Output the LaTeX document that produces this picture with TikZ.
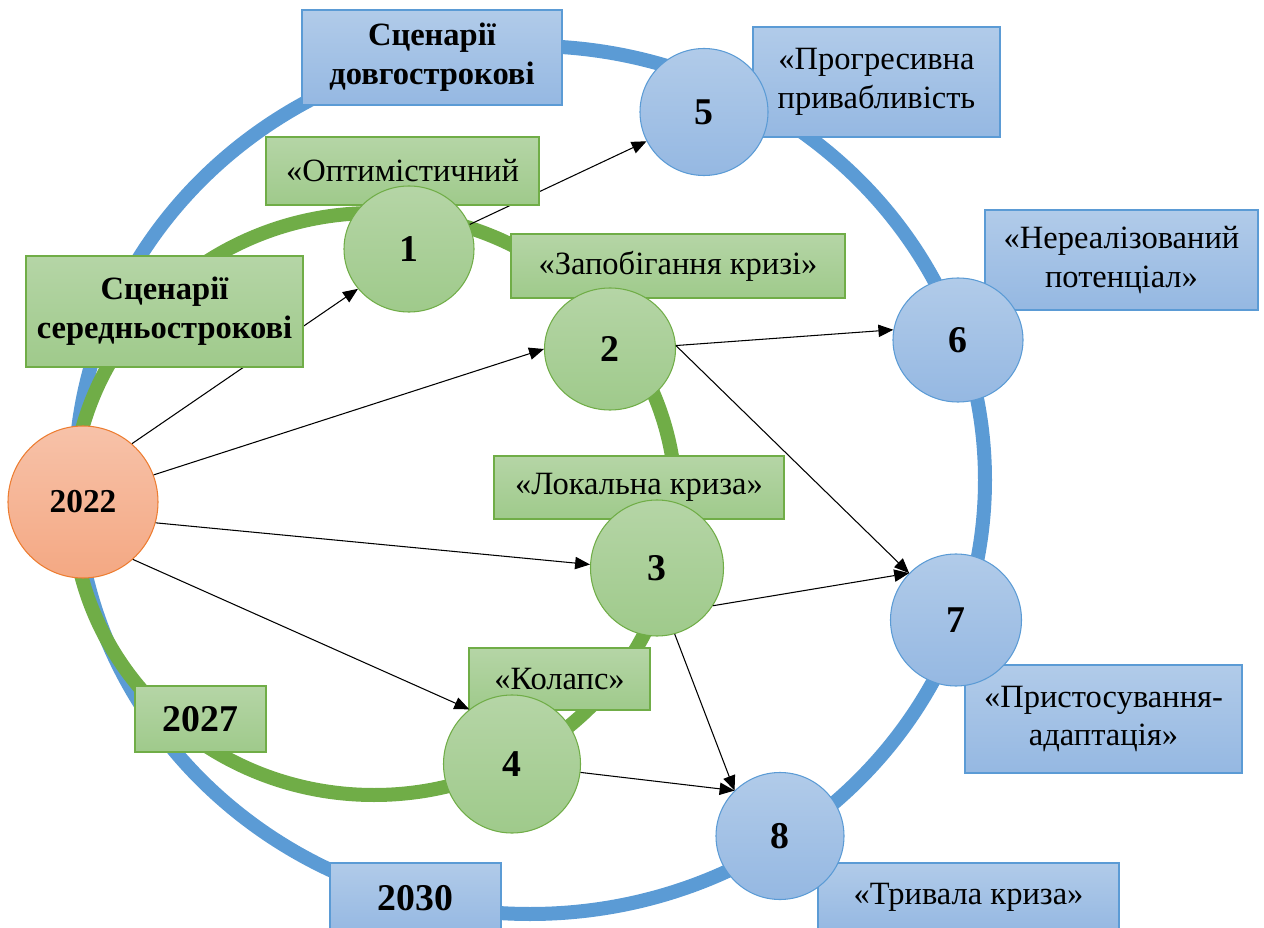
\documentclass[tikz,border=0pt]{standalone}
\usepackage{fontspec}
\setmainfont{Liberation Serif}
\usetikzlibrary{shapes.geometric,arrows.meta,backgrounds}
\definecolor{ringblue}{HTML}{5B9BD5}
\definecolor{ringgreen}{HTML}{70AD47}
\definecolor{greentop}{HTML}{B5D5A6}
\definecolor{greenbot}{HTML}{9FCA8B}
\definecolor{bluetop}{HTML}{B1CBE9}
\definecolor{bluebot}{HTML}{95B8E2}
\definecolor{orangetop}{HTML}{F7C2A9}
\definecolor{orangebot}{HTML}{F4A883}
\definecolor{orangeline}{HTML}{ED7D31}

\tikzset{
  txt/.style={font=\fontsize{18.5}{22}\selectfont, align=center},
  head/.style={font=\fontsize{18.5}{22}\selectfont\bfseries, align=center},
  year/.style={font=\fontsize{21.5}{24}\selectfont\bfseries},
  gbox/.style={rectangle, draw=ringgreen, line width=0.6pt, top color=greentop, bottom color=greenbot, inner sep=0pt},
  bbox/.style={rectangle, draw=ringblue, line width=0.6pt, top color=bluetop, bottom color=bluebot, inner sep=0pt},
  scen/.style={ellipse, line width=0.6pt, inner sep=0pt, minimum width=26mm, minimum height=25.4mm,
    font=\fontsize{21.5}{24}\selectfont\bfseries},
  gcirc/.style={scen, draw=ringgreen, top color=greentop, bottom color=greenbot},
  bcirc/.style={scen, draw=ringblue, top color=bluetop, bottom color=bluebot},
  arr/.style={-{Triangle[length=8.5pt,width=7pt]}, line width=0.6pt},
  ring/.style={line width=2.8mm}
}

\begin{document}
\begin{tikzpicture}[x=0.2mm, y=-0.2mm]
  \useasboundingbox (0,0) rectangle (1264,928);

  % boxes
  \node[bbox, head, minimum width=52mm, minimum height=19mm] (dolg) at (432,57.5) {Сценарії\\довгострокові};
  \node[bbox, txt, minimum width=49.4mm, minimum height=22mm] (prog) at (876.5,82) {«Прогресивна\\привабливість};
  \node[bbox, txt, minimum width=54.6mm, minimum height=20mm] (nerel) at (1121.5,260) {«Нереалізований\\потенціал»};
  \node[bbox, txt, minimum width=55.4mm, minimum height=21.6mm] (prist) at (1103.5,719) {«Пристосування-\\адаптація»};
  \node[bbox, txt, minimum width=60.2mm, minimum height=13.6mm] (tryv) at (968.5,897) {«Тривала криза»};
  \node[bbox, year, minimum width=34.2mm, minimum height=14mm] (y2030) at (415.5,898) {2030};
  \node[gbox, year, minimum width=26.2mm, minimum height=13.2mm] (y2027) at (200.5,719) {2027};
  \node[gbox, txt, minimum width=36.2mm, minimum height=12.4mm] (kolaps) at (559.5,679) {«Колапс»};
  \node[gbox, txt, minimum width=58mm, minimum height=12.6mm] (lokal) at (639,487.5) {«Локальна криза»};
  \node[gbox, txt, minimum width=66.8mm, minimum height=12.8mm] (zapob) at (678,266) {«Запобігання кризі»};
  \node[gbox, txt, minimum width=54.6mm, minimum height=13.6mm] (optym) at (402.5,171) {«Оптимістичний};
  \node[gbox, head, minimum width=55.4mm, minimum height=22.2mm] (sered) at (164.5,311.5) {Сценарії\\середньострокові};

  % scenarios
  \node[scen, draw=orangeline, top color=orangetop, bottom color=orangebot,
    font=\fontsize{19}{22}\selectfont\bfseries,
    minimum width=30mm, minimum height=30.4mm] (y2022) at (83,502) {2022};
  \node[gcirc, minimum height=25.2mm] (n1) at (409,249) {1};
  \node[gcirc, minimum width=26.2mm, minimum height=24.4mm] (n2) at (610,349) {2};
  \node[gcirc, minimum width=26.6mm, minimum height=27.2mm] (n3) at (657,568) {3};
  \node[gcirc, minimum width=27.4mm, minimum height=27.6mm] (n4) at (512,764) {4};
  \node[bcirc, minimum width=25.6mm] (n5) at (704,112) {5};
  \node[bcirc, minimum height=24.8mm] (n6) at (958,340) {6};
  \node[bcirc, minimum width=26.2mm, minimum height=26.4mm] (n7) at (956,620) {7};
  \node[bcirc, minimum width=25.6mm] (n8) at (780,836) {8};

  \draw[arr] (y2022.21) -- (n2.180);
  \draw[arr] (y2022.-16) -- (n3.177);
  \draw[arr] (y2022.-49) -- (n4.128);
  \draw[arr] (n2.3) -- (n6.171);
  \draw[arr] (n2.3) -- (n7.135);
  \draw[arr] (n3.-34) -- (n7.135);
  \draw[arr] (n3.-75) -- (n8.135);
  \draw[arr] (n4.-7) -- (n8.135);

  \begin{scope}[on background layer]
    \draw[ring, ringblue] (530,480) ellipse [x radius=455, y radius=434];
    \draw[ring, ringgreen] (374,504) ellipse [x radius=302, y radius=291];
    \draw[arr] (y2022.50) -- (n1.218);
    \draw[arr] (n1.22) -- (n5.207);
  \end{scope}
\end{tikzpicture}
\end{document}
